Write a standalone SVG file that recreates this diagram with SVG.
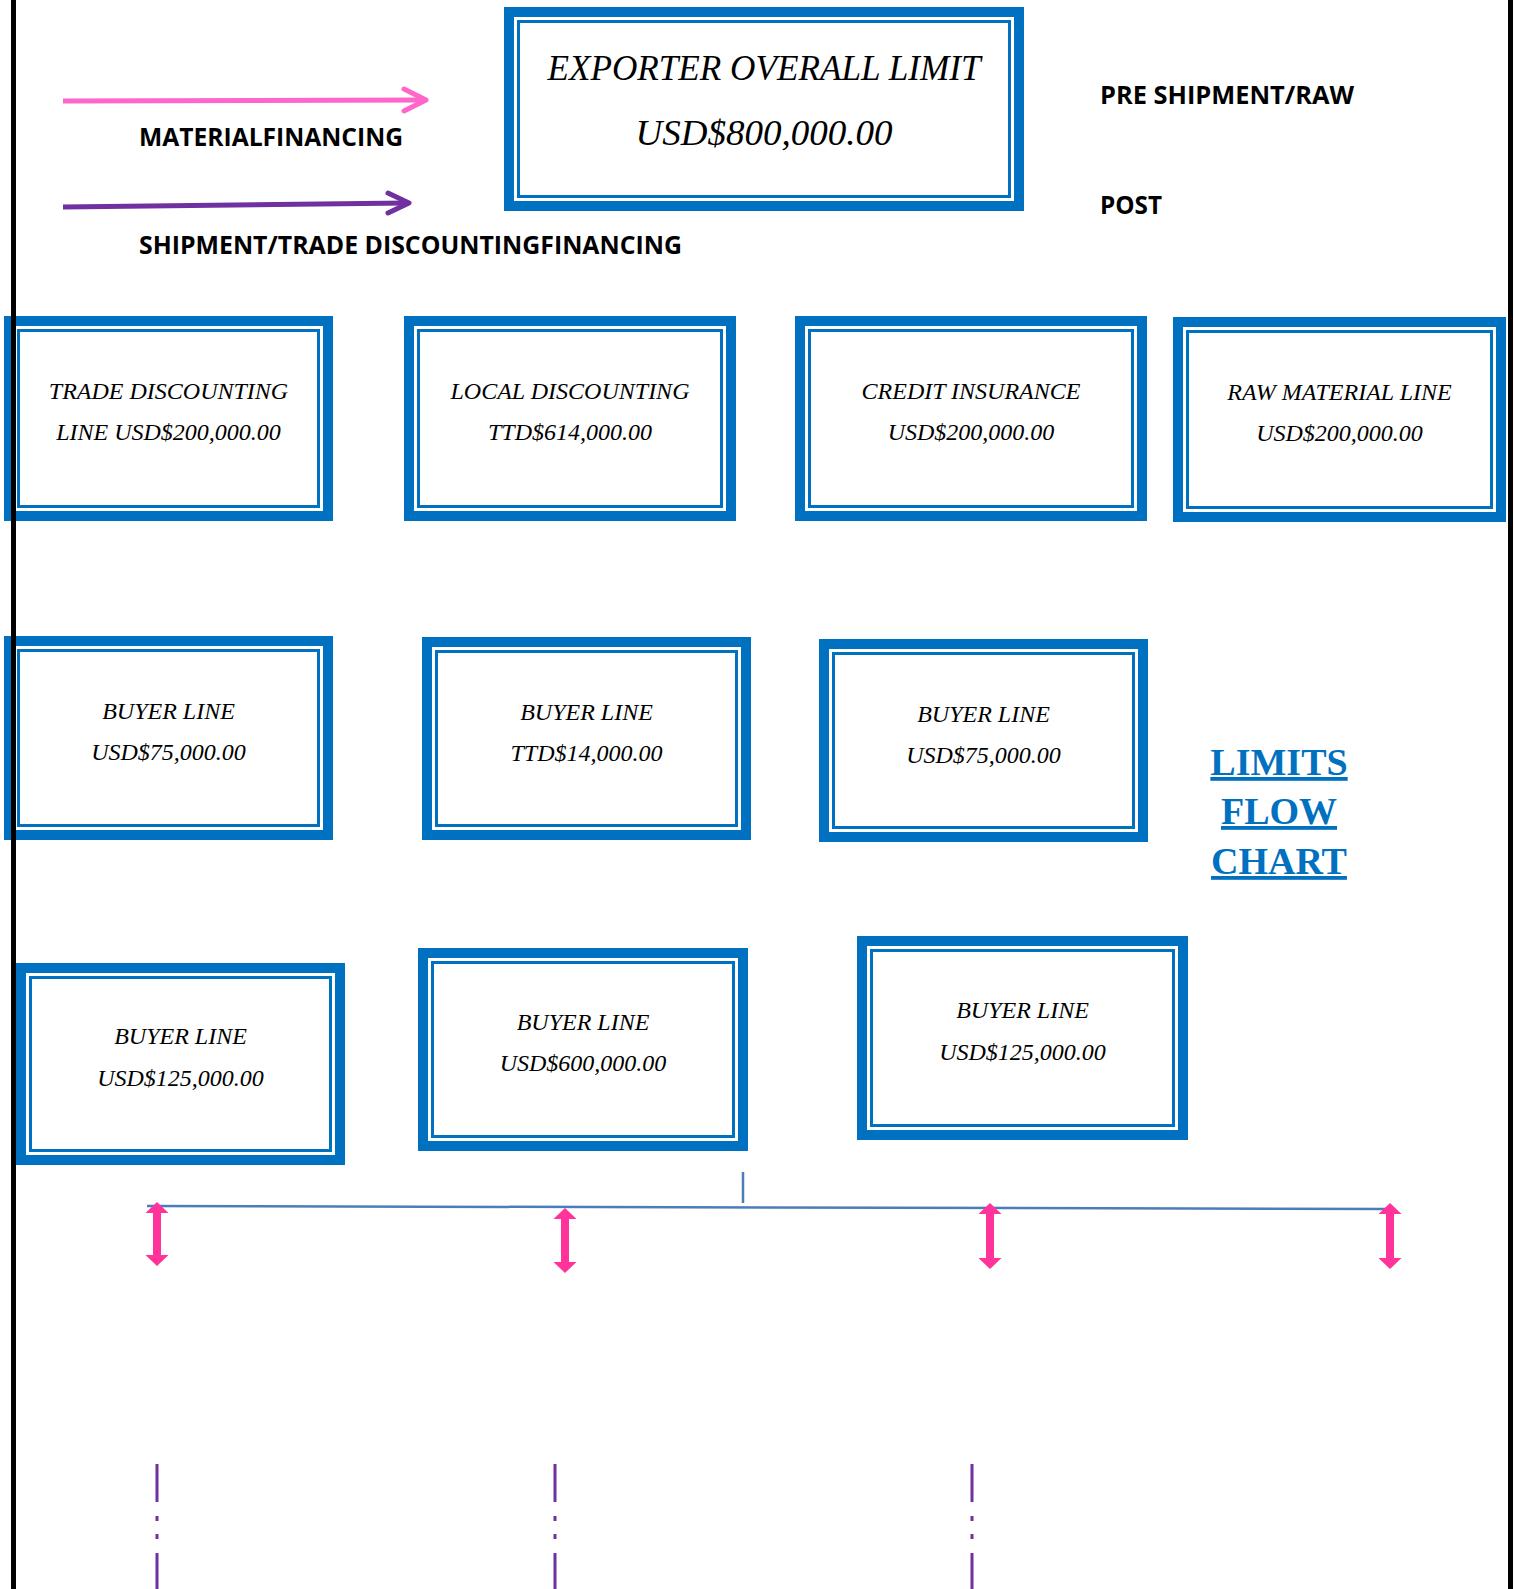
<svg xmlns="http://www.w3.org/2000/svg" width="1514" height="1589" viewBox="0 0 1514 1589">
<style>
.ob{fill:#fff;stroke:#0070C0;stroke-width:10}
.ib{fill:none;stroke:#0070C0;stroke-width:3}
.bt{font-family:"Liberation Serif","Times New Roman",serif;font-style:italic;font-size:24px;fill:#000;text-anchor:middle}
.tt{font-family:"Liberation Serif","Times New Roman",serif;font-style:italic;font-size:35px;fill:#000;text-anchor:middle}
.lg{font-family:"Open Sans","Liberation Sans",sans-serif;font-weight:bold;font-size:25px;fill:#000}
.ti{font-family:"Liberation Serif","Times New Roman",serif;font-weight:bold;font-size:38px;fill:#0070C0;text-anchor:middle;text-decoration:underline}
.pk{fill:#FF3399}
.dd{stroke:#7030A0;stroke-width:3;stroke-dasharray:38 14 5 13 5 14;fill:none}
.bl{stroke:#4A7EBB;stroke-width:2.5;fill:none}
</style>
<rect width="1514" height="1589" fill="#fff"/>

<g id="legend">
<text class="lg" x="139" y="146" textLength="264" lengthAdjust="spacingAndGlyphs">MATERIALFINANCING</text>
<text class="lg" x="139" y="254" textLength="543" lengthAdjust="spacingAndGlyphs">SHIPMENT/TRADE DISCOUNTINGFINANCING</text>
<text class="lg" x="1100" y="104" textLength="254" lengthAdjust="spacingAndGlyphs">PRE SHIPMENT/RAW</text>
<text class="lg" x="1100" y="214" textLength="62" lengthAdjust="spacingAndGlyphs">POST</text>
</g>

<g id="exporter">
<rect class="ob" x="509" y="12" width="510" height="194"/>
<rect class="ib" x="518.5" y="21.5" width="491" height="175"/>
<text class="tt" x="764" y="80" textLength="433" lengthAdjust="spacingAndGlyphs">EXPORTER OVERALL LIMIT</text>
<text class="tt" x="764" y="145" textLength="257" lengthAdjust="spacingAndGlyphs">USD$800,000.00</text>
</g>

<g id="trade-discounting">
<rect class="ob" x="9" y="321" width="319" height="195"/>
<rect class="ib" x="18.5" y="330.5" width="300" height="176"/>
<text class="bt" x="168.5" y="399">TRADE DISCOUNTING</text>
<text class="bt" x="168.5" y="440">LINE USD$200,000.00</text>
</g>
<g id="local-discounting">
<rect class="ob" x="409" y="321" width="322" height="195"/>
<rect class="ib" x="418.5" y="330.5" width="303" height="176"/>
<text class="bt" x="570" y="399">LOCAL DISCOUNTING</text>
<text class="bt" x="570" y="440">TTD$614,000.00</text>
</g>
<g id="credit-insurance">
<rect class="ob" x="800" y="321" width="342" height="195"/>
<rect class="ib" x="809.5" y="330.5" width="323" height="176"/>
<text class="bt" x="971" y="399">CREDIT INSURANCE</text>
<text class="bt" x="971" y="440">USD$200,000.00</text>
</g>
<g id="raw-material">
<rect class="ob" x="1178" y="322" width="323" height="195"/>
<rect class="ib" x="1187.5" y="331.5" width="304" height="176"/>
<text class="bt" x="1339.5" y="400">RAW MATERIAL LINE</text>
<text class="bt" x="1339.5" y="441">USD$200,000.00</text>
</g>

<g id="buyer-2-1">
<rect class="ob" x="9" y="641" width="319" height="194"/>
<rect class="ib" x="18.5" y="650.5" width="300" height="175"/>
<text class="bt" x="168.5" y="719">BUYER LINE</text>
<text class="bt" x="168.5" y="760">USD$75,000.00</text>
</g>
<g id="buyer-2-2">
<rect class="ob" x="427" y="642" width="319" height="193"/>
<rect class="ib" x="436.5" y="651.5" width="300" height="174"/>
<text class="bt" x="586.5" y="720">BUYER LINE</text>
<text class="bt" x="586.5" y="761">TTD$14,000.00</text>
</g>
<g id="buyer-2-3">
<rect class="ob" x="824" y="644" width="319" height="193"/>
<rect class="ib" x="833.5" y="653.5" width="300" height="174"/>
<text class="bt" x="983.5" y="722">BUYER LINE</text>
<text class="bt" x="983.5" y="763">USD$75,000.00</text>
</g>

<g id="title">
<text class="ti" x="1279" y="775">LIMITS</text>
<text class="ti" x="1279" y="824">FLOW</text>
<text class="ti" x="1279" y="874">CHART</text>
</g>

<g id="buyer-3-1">
<rect class="ob" x="21" y="968" width="319" height="192"/>
<rect class="ib" x="30.5" y="977.5" width="300" height="173"/>
<text class="bt" x="180.5" y="1044">BUYER LINE</text>
<text class="bt" x="180.5" y="1086">USD$125,000.00</text>
</g>
<g id="buyer-3-2">
<rect class="ob" x="423" y="953" width="320" height="193"/>
<rect class="ib" x="432.5" y="962.5" width="301" height="174"/>
<text class="bt" x="583" y="1030">BUYER LINE</text>
<text class="bt" x="583" y="1071">USD$600,000.00</text>
</g>
<g id="buyer-3-3">
<rect class="ob" x="862" y="941" width="321" height="194"/>
<rect class="ib" x="871.5" y="950.5" width="302" height="175"/>
<text class="bt" x="1022.5" y="1018">BUYER LINE</text>
<text class="bt" x="1022.5" y="1060">USD$125,000.00</text>
</g>

<g id="connectors">
<line x1="63" y1="101" x2="424" y2="100" stroke="#FF66CC" stroke-width="5"/>
<polyline points="404,89 426,100 404,111" fill="none" stroke="#FF66CC" stroke-width="5" stroke-linecap="round" stroke-linejoin="round"/>
<line x1="63" y1="207" x2="407" y2="203" stroke="#7030A0" stroke-width="5"/>
<polyline points="388,193 409,203 388,213" fill="none" stroke="#7030A0" stroke-width="5" stroke-linecap="round" stroke-linejoin="round"/>
<line class="bl" x1="743" y1="1172" x2="743" y2="1203"/>
<line class="bl" x1="147" y1="1206" x2="1390" y2="1209"/>
<polygon class="pk" points="157,1202 168.5,1213 161,1213 161,1255 168.5,1255 157,1266 145.5,1255 153,1255 153,1213 145.5,1213"/>
<polygon class="pk" points="565,1208 576.5,1219 569,1219 569,1262 576.5,1262 565,1273 553.5,1262 561,1262 561,1219 553.5,1219"/>
<polygon class="pk" points="990,1203 1001.5,1214 994,1214 994,1258 1001.5,1258 990,1269 978.5,1258 986,1258 986,1214 978.5,1214"/>
<polygon class="pk" points="1390,1203 1401.5,1214 1394,1214 1394,1258 1401.5,1258 1390,1269 1378.5,1258 1386,1258 1386,1214 1378.5,1214"/>
<line class="dd" x1="157" y1="1464" x2="157" y2="1589"/>
<line class="dd" x1="555" y1="1464" x2="555" y2="1589"/>
<line class="dd" x1="972" y1="1464" x2="972" y2="1589"/>
</g>

<g id="page-edges">
<rect x="11" y="0" width="5" height="1589" fill="#000"/>
<rect x="1508" y="0" width="5" height="1589" fill="#000"/>
</g>
</svg>
